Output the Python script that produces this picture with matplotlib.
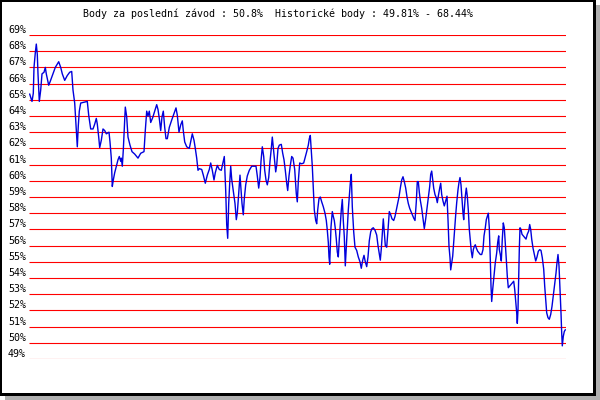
import matplotlib
matplotlib.use('Agg')
import matplotlib.pyplot as plt
from matplotlib.patches import Rectangle
from matplotlib.transforms import Affine2D

# Data (race position along the timeline, score in %)
race = [
    29.7, 32, 33.3, 34, 35.3, 36.3, 37.3, 38, 39.3, 40.7,
    42, 44, 45.3, 46.3, 48.7, 50, 53, 55.3, 58.7, 60.7,
    62.3, 64.7, 67.3, 69.7, 71.7, 73, 74.7, 75.7, 76.7, 77.3,
    78.3, 79.3, 80.7, 84, 87.3, 88.7, 90.7, 93, 94.7, 96.3,
    97.3, 98.7, 99.7, 101.3, 103, 104.7, 106.3, 109, 110, 111.3,
    112.3, 113.3, 114.7, 116.3, 118, 119.3, 120.7, 121.3, 122.3, 123.3,
    124.3, 125.3, 126.7, 128, 130, 132, 134.7, 138, 140.7, 144,
    145.3, 146.7, 148, 149.3, 150.7, 152.7, 154.7, 156.7, 158, 159.3,
    160.7, 162, 163.3, 164.7, 166,
    167.3, 169.3, 171.7, 174, 176, 177.3, 179, 180.7, 182.3, 183.3,
    184.7, 186.7, 189.3, 191, 192.3, 194, 195.3, 196.7, 198, 199.3,
    201.7, 203.3, 205.3, 207.3, 209.3, 210.7, 212.3, 214, 215.3, 217.3,
    219.3, 221.3, 222.7, 224.3, 225.7, 226.7, 227.7, 228.7, 229.7, 230.7,
    231.7, 233.7, 235, 236.3, 237.3, 238.7, 240, 241, 242, 243.3,
    244.3, 245.7, 247.3, 249.3, 251.7, 254, 256, 257.3, 258.7, 260,
    261, 262.3, 263.7, 264.7, 266, 267.3, 268.7, 270, 271.3, 272.3,
    273.7, 274.7, 275.7, 276.7, 278, 279.3, 281.3, 282.7, 284, 285.3,
    286.7, 287.7, 289, 290.3, 291.7, 293, 294.7,
    296.3, 297.3, 298.3, 299.7, 301.7, 303.7, 305, 306.7, 308.3, 309.3,
    310.3, 311, 312.3, 313.3, 314.3, 315.7, 316.7, 317.7, 319, 320.3,
    321.7, 323.3, 325, 326.3, 327.3, 328.3, 329, 329.7, 330.3, 331,
    332.3, 333.3, 334.3, 335.3, 336.3, 337.3, 338.3, 339.3, 340.3, 341.3,
    342.3, 343.3, 344.3, 345.3, 346.3, 347.3, 348.3, 349.3, 350.3, 351.3,
    352.3, 353.7, 355, 356.7, 358.3, 360, 361.3, 362.7, 364, 365.3,
    366.7, 368, 369.3, 370.7, 372, 373.3, 375, 376.7, 378, 379.3,
    380.3, 381.3, 382.3, 383.3, 384.3, 385.3, 386.7, 388, 389.3, 390.7,
    392, 393.7, 395, 396.3, 397.7, 399, 400.3, 401.7, 403, 404.3,
    405.7, 407, 408.3, 409.7, 411, 412.3, 413.7, 415, 416.3, 417.3,
    418.3, 419.3, 420.3, 421.7, 423, 424.3, 425.7, 427, 428.3, 429.7,
    430.7, 431.7, 432.7, 433.7, 435, 436.3, 437.3, 438.3, 439.7, 440.7,
    441.7, 443, 444.3, 445.7, 447, 448, 449, 450, 450.7, 451.7,
    452.7, 453.7, 454.7, 455.7, 456.7, 458, 459, 460, 461, 462,
    463, 463.7, 464.3, 465.3, 466.3, 467.3, 468.3, 469.3, 470.3, 471.3,
    472.3, 473.3, 474.3, 475.3, 476.3, 477.7, 479, 480.3, 481.7, 483,
    484, 485.3, 486.3, 487.3, 488.3, 489.3, 490.3, 491, 491.7, 492.7,
    494, 495.3, 496.7, 497.7, 498.7, 499.3, 500.3, 501.3, 502.3, 503.3,
    504.3, 505.3, 506.3, 507.3, 508.3, 509.7, 511, 512.3, 513.7, 514.7,
    515.7, 516.7, 517.3, 518, 518.7, 519.3, 520, 521, 522, 523.3,
    524.7, 526, 527.3, 528.7, 529.7, 530.7, 531.7, 533, 534.3, 535.7,
    537, 538.3, 539.7, 541, 542.3, 543.7, 544.7, 545.7, 546.7, 548,
    549.3, 550.7, 552, 553.3, 554.7, 556, 557, 558, 559, 560,
    561, 561.7, 562.3, 563.3, 564.3, 565.3,
]
score = [
    65.35, 64.9, 65.4, 67.0, 67.9, 68.44, 67.8, 66.6, 64.9, 65.6,
    66.6, 66.7, 67.0, 66.6, 65.9, 66.1, 66.6, 67.0, 67.35, 67.0,
    66.6, 66.2, 66.5, 66.7, 66.75, 65.6, 64.8, 63.75, 62.7, 62.1,
    63.4, 64.3, 64.8, 64.85, 64.9, 64.05, 63.2, 63.2, 63.5, 63.85,
    63.5, 62.7, 62.05, 62.5, 63.2, 63.1, 62.9, 63.0, 62.4, 61.4,
    59.65, 60.05, 60.5, 60.9, 61.3, 61.5, 61.2, 61.4, 60.9, 61.9,
    63.3, 64.55, 63.95, 62.7, 62.2, 61.8, 61.65, 61.4, 61.7, 61.8,
    63.1, 64.3, 64.0, 64.3, 63.6, 63.9, 64.3, 64.7, 64.4, 63.85,
    63.1, 63.95, 64.3, 63.3, 62.6,
    62.6, 63.3, 63.75, 64.15, 64.5, 64.05, 63.0, 63.45, 63.7, 63.1,
    62.4, 62.1, 62.0, 62.5, 62.9, 62.5, 62.0, 61.4, 60.65, 60.75,
    60.7, 60.35, 59.85, 60.35, 60.7, 61.1, 60.65, 60.05, 60.5, 60.95,
    60.7, 60.65, 61.05, 61.5, 59.4, 57.3, 56.45, 58.6, 59.85, 60.9,
    60.1, 59.2, 58.6, 57.6, 58.0, 59.2, 60.35, 59.45, 58.6, 57.9,
    58.9, 59.75, 60.3, 60.65, 60.9, 60.9, 60.9, 60.3, 59.55, 60.2,
    61.2, 62.1, 61.5, 60.65, 60.05, 59.75, 60.2, 61.2, 62.0, 62.7,
    61.8, 61.2, 60.55, 60.95, 62.0, 62.2, 62.25, 61.7, 61.3, 60.65,
    59.85, 59.4, 60.3, 60.95, 61.5, 61.4, 60.7,
    59.2, 58.7, 59.95, 61.1, 61.05, 61.1, 61.4, 61.8, 62.2, 62.6,
    62.8, 62.1, 60.9, 59.6, 58.2, 57.55, 57.35, 58.2, 58.9, 59.0,
    58.7, 58.4, 58.0, 57.55, 56.95, 56.2, 55.3, 54.85, 55.9, 57.15,
    58.1, 57.8, 57.55, 57.05, 56.4, 55.6, 55.3, 56.4, 57.35, 58.2,
    58.85, 57.55, 56.55, 54.75, 55.9, 57.15, 58.2, 59.0, 59.85, 60.4,
    58.4, 56.85, 55.9, 55.7, 55.3, 55.0, 54.6, 55.1, 55.4, 55.0,
    54.7, 55.3, 56.3, 56.85, 57.05, 57.1, 56.95, 56.65, 56.0, 55.5,
    55.1, 55.8, 56.75, 57.65, 56.85, 56.0, 55.9, 56.95, 58.1, 57.9,
    57.65, 57.55, 57.8, 58.2, 58.6, 59.0, 59.55, 60.05, 60.25, 59.95,
    59.55, 59.0, 58.6, 58.3, 58.1, 57.9, 57.7, 57.55, 58.7, 59.95,
    59.95, 59.3, 58.8, 58.3, 57.65, 57.05, 57.65, 58.3, 59.0, 59.65,
    60.4, 60.6, 60.1, 59.55, 59.15, 58.95, 58.65, 59.05, 59.55, 59.85,
    59.15, 58.75, 58.45, 58.75, 59.05, 57.6, 55.95, 55.25, 54.5, 54.95,
    55.35, 56.2, 57.0, 57.9, 58.65, 59.45, 59.9, 60.2, 59.75, 58.85,
    58.0, 57.6, 58.2, 59.05, 59.55, 59.05, 58.2, 57.0, 56.3, 55.65,
    55.25, 55.75, 55.95, 56.05, 55.85, 55.65, 55.55, 55.45, 55.45, 55.75,
    56.6, 57.1, 57.6, 57.8, 58.0, 57.1, 55.15, 53.5, 52.55, 53.3,
    54.1, 54.95, 55.55, 56.2, 56.6, 55.75, 55.45, 55.05, 56.4, 57.4,
    57.1, 56.15, 55.15, 54.1, 53.4, 53.5, 53.6, 53.7, 53.8, 53.3,
    52.55, 51.85, 51.2, 52.05, 54.1, 55.75, 57.1, 57.0, 56.7, 56.6,
    56.5, 56.4, 56.7, 56.9, 57.3, 57.0, 56.4, 55.85, 55.45, 55.05,
    55.3, 55.65, 55.75, 55.7, 55.25, 54.55, 53.5, 52.7, 51.85, 51.55,
    51.45, 51.75, 52.25, 52.9, 53.6, 54.3, 54.95, 55.45, 54.75, 53.3,
    51.85, 50.6, 49.81, 50.4, 50.7, 50.8,
]
levels = list(range(49, 70))
last_score = 50.8
hist_min, hist_max = 49.81, 68.44

title = (f'Body za poslední závod : {last_score}%  '
         f'Historické body : {hist_min}% - {hist_max}%')

plt.rcParams['font.family'] = ['DejaVu Sans Mono']

fig = plt.figure(figsize=(6, 4), dpi=100)
W, H = 600, 400
ax = fig.add_axes([29 / W, 1 - 359 / H, (566 - 29) / W, (359 - 35) / H])
ax.set_xlim(29, 566)
ax.set_ylim(49, 69)
ax.axis('off')

ax.hlines(levels, 29, 566, color='#ff0000', lw=0.8, zorder=1)
ax.plot(race, score, color='#0000dd', lw=1.0, zorder=2)

for v in levels:
    ax.text(-3 / 537, v, f'{v}%', transform=ax.get_yaxis_transform(),
            ha='right', va='bottom', fontsize=7.2, color='black')

fig.text(83 / W, 1 - 14 / H, title, ha='left', va='center', fontsize=7.2)

# frame and shadow, in pixel coordinates (origin top-left)
px = Affine2D().scale(1 / W, -1 / H).translate(0, 1) + fig.transFigure
for x0, y0, w, h, c in [
    (596, 5, 4, 395, '#b0b0b0'), (5, 396, 595, 4, '#b0b0b0'),
    (0, 0, 596, 2, 'black'), (0, 0, 2, 396, 'black'),
    (593, 0, 3, 396, 'black'), (0, 393, 596, 3, 'black'),
]:
    fig.patches.append(Rectangle((x0, y0), w, h, transform=px,
                                 facecolor=c, edgecolor='none'))

fig.savefig('out.png', dpi=100)
